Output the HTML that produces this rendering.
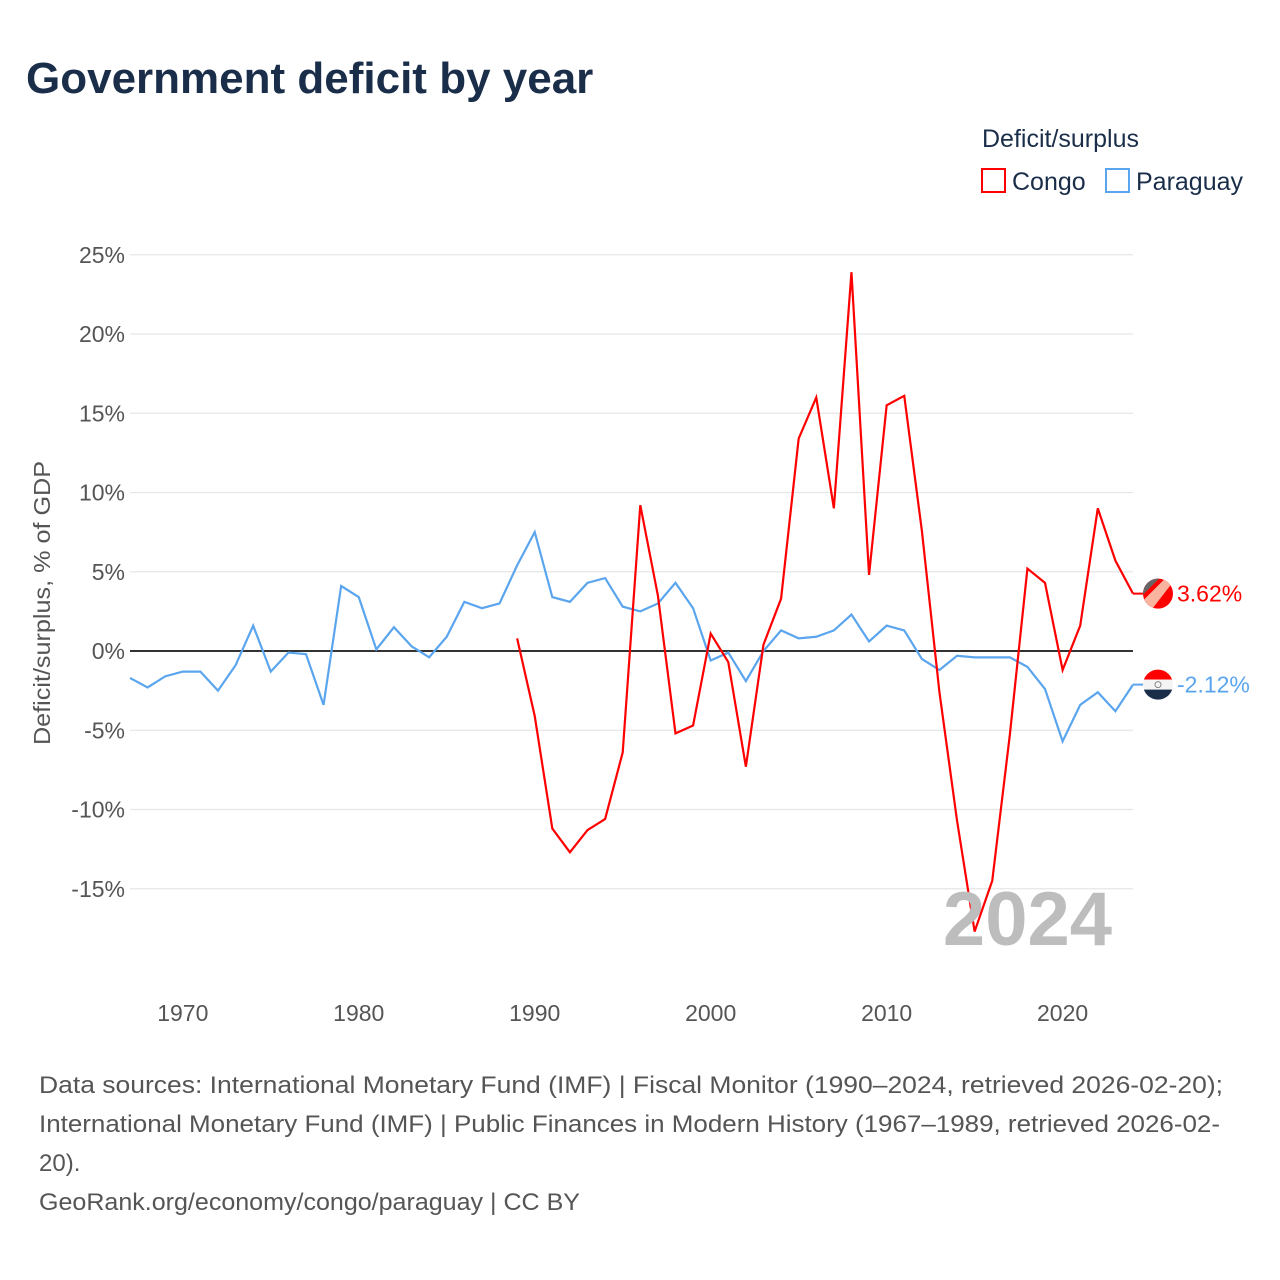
<!DOCTYPE html>
<html><head><meta charset="utf-8"><style>
body{margin:0;background:#fff;font-family:"Liberation Sans",sans-serif;}
#wrap{position:relative;width:1280px;height:1280px;overflow:hidden;}
text{font-family:"Liberation Sans",sans-serif;}
</style></head><body>
<div id="wrap">
<svg id="chart" width="1280" height="1280">
<text x="26" y="93" font-size="44" font-weight="bold" fill="#1a2e4a">Government deficit by year</text>
<text x="982" y="147" font-size="25" fill="#1a2e4a">Deficit/surplus</text>
<g><rect x="982" y="169" width="23" height="23" fill="none" stroke="#ff0000" stroke-width="2"/><text x="1012" y="190" font-size="25" fill="#1a2e4a">Congo</text></g>
<g><rect x="1106" y="169" width="23" height="23" fill="none" stroke="#5aa5ee" stroke-width="2"/><text x="1136" y="190" font-size="25" fill="#1a2e4a">Paraguay</text></g>
<text transform="translate(50,603) rotate(-90)" text-anchor="middle" font-size="23" fill="#555" textLength="284" lengthAdjust="spacingAndGlyphs">Deficit/surplus, % of GDP</text>
<g id="grid"></g><g id="series"></g>
<text x="1112" y="945" text-anchor="end" font-size="76" font-weight="bold" fill="#bdbdbd">2024</text>
<g id="ends"></g>
<g font-size="24" fill="#555">
<text x="39" y="1093" textLength="1184" lengthAdjust="spacingAndGlyphs">Data sources: International Monetary Fund (IMF) | Fiscal Monitor (1990–2024, retrieved 2026-02-20);</text>
<text x="39" y="1132" textLength="1181" lengthAdjust="spacingAndGlyphs">International Monetary Fund (IMF) | Public Finances in Modern History (1967–1989, retrieved 2026-02-</text>
<text x="39" y="1171">20).</text>
<text x="39" y="1210" textLength="541" lengthAdjust="spacingAndGlyphs">GeoRank.org/economy/congo/paraguay | CC BY</text>
</g>
</svg>
</div>
<script>
const yTicks=[25,20,15,10,5,0,-5,-10,-15];
const xTicks=[1970,1980,1990,2000,2010,2020];
const paraguayYears=[];for(let y=1967;y<=2024;y++)paraguayYears.push(y);
const paraguayValues=[-1.7,-2.3,-1.6,-1.3,-1.3,-2.5,-0.9,1.6,-1.3,-0.1,-0.2,-3.4,4.1,3.4,0.1,1.5,0.3,-0.4,0.9,3.1,2.7,3.0,5.4,7.5,3.4,3.1,4.3,4.6,2.8,2.5,3.0,4.3,2.7,-0.6,-0.1,-1.9,0.0,1.3,0.8,0.9,1.3,2.3,0.6,1.6,1.3,-0.5,-1.2,-0.3,-0.4,-0.4,-0.4,-1.0,-2.4,-5.7,-3.4,-2.6,-3.8,-2.12];
const congoYears=[];for(let y=1989;y<=2024;y++)congoYears.push(y);
const congoValues=[0.8,-4.1,-11.2,-12.7,-11.3,-10.6,-6.4,9.2,3.5,-5.2,-4.7,1.1,-0.7,-7.3,0.4,3.3,13.4,16.0,9.0,23.9,4.8,15.5,16.1,7.6,-2.6,-10.7,-17.7,-14.5,-5.3,5.2,4.3,-1.2,1.6,9.0,5.7,3.62];
const X=y=>130+(y-1967)*(1133-130)/57;
const Y=v=>651-v*15.85;
const NS='http://www.w3.org/2000/svg';
function mk(tag,attrs,parent){const e=document.createElementNS(NS,tag);for(const k in attrs)e.setAttribute(k,attrs[k]);parent.appendChild(e);return e;}
const grid=document.getElementById('grid');
yTicks.forEach(t=>{
 if(t!==0){const l=mk('line',{x1:130,x2:1133,y1:Y(t),y2:Y(t),stroke:'#e6e6e6','stroke-width':1.2},grid);
 
 }
 const tx=mk('text',{x:125,y:Y(t)+8,'text-anchor':'end','font-size':23,fill:'#555'},grid);
 tx.textContent=t+'%';
 
 
});
xTicks.forEach(t=>{
 const tx=mk('text',{x:X(t),y:1021,'text-anchor':'middle','font-size':23,fill:'#555'},grid);
 tx.textContent=t;
 
 
});
const zl=mk('line',{x1:130,x2:1133,y1:Y(0),y2:Y(0),stroke:'#333','stroke-width':2},grid);


const s=document.getElementById('series');
function line(years,vals,color,name){
 const p=mk('polyline',{points:years.map((y,i)=>X(y)+','+Y(vals[i])).join(' '),fill:'none',stroke:color,'stroke-width':2.2,'stroke-linejoin':'miter'},s);
 
 
}
line(paraguayYears,paraguayValues,'#5aa5ee','paraguay-line');
line(congoYears,congoValues,'#ff0000','congo-line');
const ends=document.getElementById('ends');
function endLabel(val,color,name,flag){
 const y=Y(val);
 mk('line',{x1:1133,x2:1143,y1:y,y2:y,stroke:color,'stroke-width':2},ends);
 const g=mk('g',{},ends);
 
 
 const cid='c'+name;
 const cp=mk('clipPath',{id:cid},g);mk('circle',{cx:1158,cy:y,r:15},cp);
 const gg=mk('g',{'clip-path':'url(#'+cid+')'},g);
 if(flag==='congo'){
  mk('rect',{x:1140,y:y-16,width:36,height:32,fill:'#ff0000'},gg);
  mk('polygon',{points:`1140,${y+10} 1168,${y-18} 1178,${y-18} 1150,${y+18} 1140,${y+18}`,fill:'#f9b4a0'},gg);
  mk('polygon',{points:`1140,${y-18} 1162,${y-18} 1140,${y+4}`,fill:'#666'},gg);
 }else{
  mk('rect',{x:1140,y:y-16,width:36,height:11,fill:'#ff0000'},gg);
  mk('rect',{x:1140,y:y-5,width:36,height:10,fill:'#f4f4f4'},gg);
  mk('rect',{x:1140,y:y+5,width:36,height:12,fill:'#1a2e4a'},gg);
  mk('circle',{cx:1158,cy:y,r:3,fill:'none',stroke:'#888','stroke-width':1},gg);
 }
 const t=mk('text',{x:1177,y:y+8,'font-size':23,fill:color},ends);
 t.textContent=val.toFixed(2)+'%';
 
 
}
endLabel(congoValues[congoValues.length-1],'#ff0000','congo','congo');
endLabel(paraguayValues[paraguayValues.length-1],'#5aa5ee','paraguay','paraguay');
</script>
</body></html>
